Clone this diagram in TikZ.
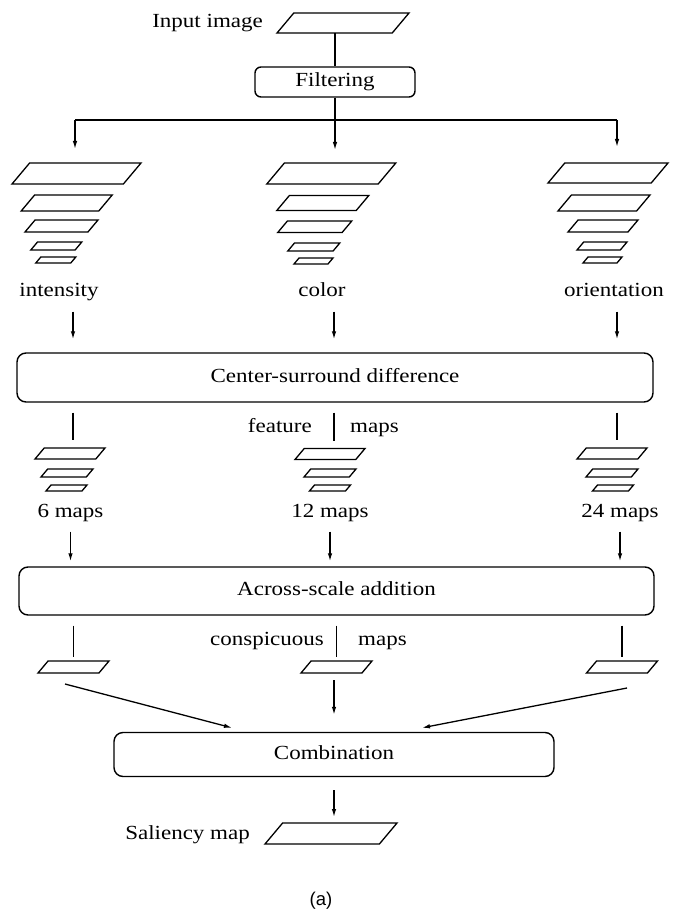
\documentclass[tikz,border=0pt]{standalone}
\usepackage{fontspec}
\setmainfont{Liberation Serif}[FakeStretch=1.15]
\newfontfamily\capfont{Liberation Sans}
\usetikzlibrary{shapes.geometric,arrows.meta}

\newcommand\layerbox[2]{\pgfmathsetlengthmacro\layerw{#1-1.678*#2}\rule{0pt}{#2pt}\hspace*{\layerw}}

\tikzset{
  stage/.style={draw, line width=1.4pt, rounded corners=9pt, inner sep=0pt,
    font=\fontsize{20}{24}\selectfont, text height=14pt, text depth=4.5pt},
  layer/.style={trapezium, trapezium left angle=50, trapezium right angle=130,
    draw, line width=1.3pt, inner sep=0pt, outer sep=0pt},
  lbl/.style={inner sep=0pt, font=\fontsize{20}{24}\selectfont, text height=14pt, text depth=4.5pt},
  flow/.style={line width=1.3pt, -{Latex[length=8pt,width=4.5pt]}},
  link/.style={line width=1.3pt},
}

\begin{document}
\begin{tikzpicture}[x=1pt, y=-1pt]
  \useasboundingbox (0,0) rectangle (676,912);

  \node[lbl, anchor=base east] (inlbl) at (263,28) {Input image};
  \node[layer] (inimg) at (343,23) {\layerbox{132}{20}};
  \node[stage, minimum width=160, minimum height=30, rounded corners=6pt] (filt) at (335,82) {Filtering};

  \node[layer] (i1) at (76.5,173.5) {\layerbox{129}{21}};
  \node[layer] (i2) at (66.7,203) {\layerbox{91}{16}};
  \node[layer] (i3) at (61.5,226) {\layerbox{73}{12}};
  \node[layer] (i4) at (56.3,246) {\layerbox{51}{8}};
  \node[layer] (i5) at (55.8,260) {\layerbox{40}{6}};

  \node[layer] (c1) at (331.3,173.5) {\layerbox{129}{21}};
  \node[layer] (c2) at (322.8,203) {\layerbox{92}{15}};
  \node[layer] (c3) at (314.8,226.7) {\layerbox{74}{11.5}};
  \node[layer] (c4) at (313.8,247) {\layerbox{52}{8}};
  \node[layer] (c5) at (313.5,261) {\layerbox{39}{6}};

  \node[layer] (o1) at (608,173) {\layerbox{120}{20}};
  \node[layer] (o2) at (604,203) {\layerbox{92}{16}};
  \node[layer] (o3) at (603,226) {\layerbox{70}{12}};
  \node[layer] (o4) at (602,246) {\layerbox{50}{8}};
  \node[layer] (o5) at (602.5,260) {\layerbox{39}{6}};

  \node[lbl, anchor=base] (intens) at (59,296) {intensity};
  \node[lbl, anchor=base] (colr) at (322,296) {color};
  \node[lbl, anchor=base] (orient) at (614,296) {orientation};

  \node[stage, minimum width=636, minimum height=49] (cs) at (335,377.5) {Center-surround difference};

  \node[layer] (fi1) at (70,453.5) {\layerbox{70}{11}};
  \node[layer] (fi2) at (67,473) {\layerbox{52}{8}};
  \node[layer] (fi3) at (66.5,488) {\layerbox{41}{6}};
  \node[layer] (fc1) at (330,454) {\layerbox{70}{11}};
  \node[layer] (fc2) at (330,473) {\layerbox{52}{8}};
  \node[layer] (fc3) at (330,488) {\layerbox{41}{6}};
  \node[layer] (fo1) at (612,453.5) {\layerbox{70}{11}};
  \node[layer] (fo2) at (612,473) {\layerbox{52}{8}};
  \node[layer] (fo3) at (613,488) {\layerbox{41}{6}};

  \node[lbl, anchor=base east] (feat) at (312,432) {feature};
  \node[lbl, anchor=base west] (fmaps) at (350,432) {maps};
  \node[lbl, anchor=base] (six) at (70.5,517) {6 maps};
  \node[lbl, anchor=base] (twelve) at (330,517) {12 maps};
  \node[lbl, anchor=base] (twentyfour) at (620,517) {24 maps};

  \node[stage, minimum width=635, minimum height=48] (acr) at (336.5,591) {Across-scale addition};

  \node[layer] (cI) at (73.5,667) {\layerbox{71}{12}};
  \node[layer] (cC) at (336.5,667) {\layerbox{71}{12}};
  \node[layer] (cO) at (622,667) {\layerbox{71}{12}};
  \node[lbl, anchor=base east] (consp) at (324,645) {conspicuous};
  \node[lbl, anchor=base west] (cmaps) at (358,645) {maps};

  \node[stage, minimum width=440, minimum height=44] (comb) at (334,754.5) {Combination};

  \node[layer] (sal) at (331,833.5) {\layerbox{132}{21}};
  \node[lbl, anchor=base east] (sallbl) at (250,839) {Saliency map};

  \node[inner sep=0pt, font=\capfont\fontsize{18.5}{22}\selectfont] (cap) at (321,901) {(a)};

  \coordinate (brI) at (75,120);
  \coordinate (brO) at (617,120);
  \coordinate (colI) at (73,0);
  \coordinate (colC) at (334,0);
  \coordinate (colO) at (617,0);
  \coordinate (startI) at (65,684);
  \coordinate (startO) at (627,688);

  \draw[link] (inimg.south -| filt.north) -- (filt.north);
  \draw[link] (brI) -- (brO);
  \draw[flow, shorten >=14pt] (brI) -- (brI |- i1.north);
  \draw[flow, shorten >=13pt] (filt.south) -- (filt.south |- c1.north);
  \draw[flow, shorten >=16pt] (brO) -- (brO |- o1.north);

  \draw[flow, shorten <=11pt, shorten >=13pt] (colI |- intens.south) -- (colI |- cs.north);
  \draw[flow, shorten <=11pt, shorten >=13pt] (colC |- colr.south) -- (colC |- cs.north);
  \draw[flow, shorten <=11pt, shorten >=13pt] (colO |- orient.south) -- (colO |- cs.north);

  \draw[link, shorten <=10pt, shorten >=8pt] (colI |- cs.south) -- (colI |- fi1.north);
  \draw[link, shorten <=10pt, shorten >=8pt] (colC |- cs.south) -- (colC |- fc1.north);
  \draw[link, shorten <=10pt, shorten >=8pt] (colO |- cs.south) -- (colO |- fo1.north);

  \draw[flow, shorten <=10pt, shorten >=5pt] (six.south) -- (six.south |- acr.north);
  \draw[flow, shorten <=10pt, shorten >=5pt] (twelve.south) -- (twelve.south |- acr.north);
  \draw[flow, shorten <=10pt, shorten >=5pt] (twentyfour.south) -- (twentyfour.south |- acr.north);

  \draw[link, shorten <=10pt, shorten >=4pt] (cI.north |- acr.south) -- (cI.north);
  \draw[link, shorten <=10pt, shorten >=4pt] (cC.north |- acr.south) -- (cC.north);
  \draw[link, shorten <=10pt, shorten >=4pt] (cO.north |- acr.south) -- (cO.north);

  \draw[flow] (startI) -- ([xshift=-102pt, yshift=4pt]comb.north);
  \draw[flow, shorten <=7pt, shorten >=17pt] (comb.north |- cC.south) -- (comb.north);
  \draw[flow] (startO) -- ([xshift=88pt, yshift=4pt]comb.north);

  \draw[flow, shorten <=13pt, shorten >=6pt] (comb.south) -- (comb.south |- sal.north);
\end{tikzpicture}
\end{document}
